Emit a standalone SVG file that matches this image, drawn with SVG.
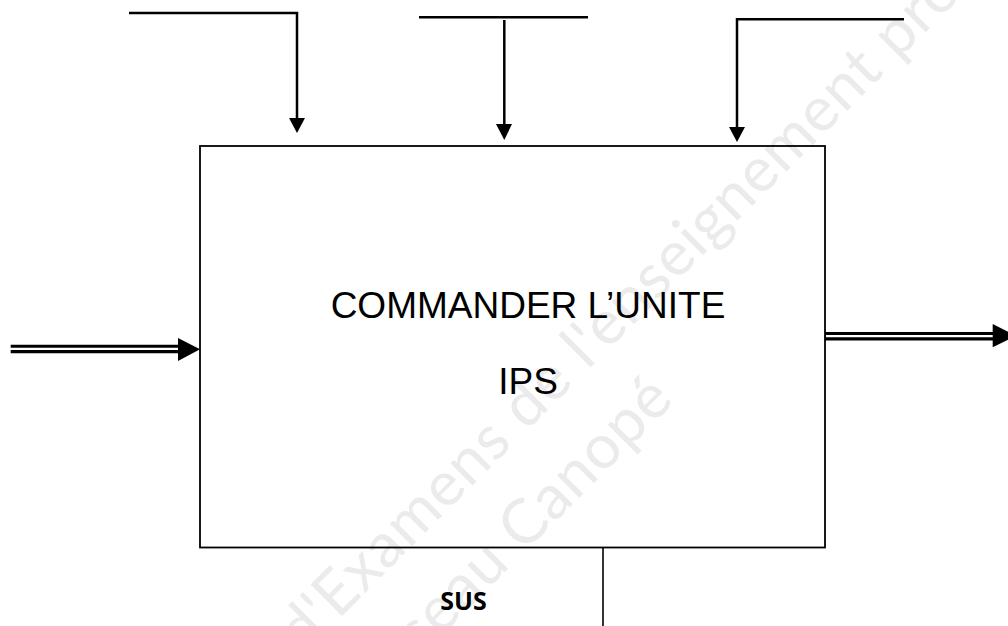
<svg xmlns="http://www.w3.org/2000/svg" width="1008" height="626" viewBox="0 0 1008 626">
<style>
.wm{font-family:Lato,"Open Sans",sans-serif;font-size:62px;fill:#ebebeb;letter-spacing:1px}
.ln{stroke:#000;stroke-width:2.5;fill:none}
.hd{fill:#000;stroke:none}
.box{fill:none;stroke:#000;stroke-width:1.8}
.lbl{font-family:"Liberation Sans",Arial,sans-serif;font-size:37px;fill:#000;text-anchor:middle}
.sus{font-family:"Open Sans","Liberation Sans",sans-serif;font-size:25px;font-weight:bold;fill:#000;text-anchor:middle}
</style>
<g id="watermark">
<text class="wm" x="303" y="655" transform="rotate(-45 303 655)">d'Examens de l'enseignement professionnel</text>
<text class="wm" x="370" y="707" transform="rotate(-45 370 707)">Réseau Canopé</text>
</g>
<g id="node-commander">
<rect class="box" x="200" y="146" width="625" height="401.5"/>
<text class="lbl" x="528" y="318">COMMANDER L’UNITE</text>
<text class="lbl" x="528" y="394">IPS</text>
</g>
<g id="label-sus">
<text class="sus" x="463.5" y="610">SUS</text>
</g>
<g id="connectors">
<path class="ln" d="M129 13 H297 V119"/>
<polygon class="hd" points="289,118 305,118 297,133"/>
<path class="ln" d="M419 17.3 H588"/>
<path class="ln" d="M504.3 20 V125"/>
<polygon class="hd" points="496,124 512,124 504.3,140"/>
<path class="ln" d="M904 19.3 H737 V128"/>
<polygon class="hd" points="729,127 745,127 737,142"/>
<line x1="10.7" y1="349" x2="180" y2="349" stroke="#000" stroke-width="8.3"/>
<line x1="10" y1="348.8" x2="182" y2="348.8" stroke="#fff" stroke-width="2.3"/>
<polygon class="hd" points="178,338 200,349.3 178,361"/>
<line x1="825" y1="336.3" x2="995" y2="336.3" stroke="#000" stroke-width="8.6"/>
<line x1="826" y1="336.2" x2="997" y2="336.2" stroke="#fff" stroke-width="2.3"/>
<polygon class="hd" points="992.7,324 1016,335.7 992.7,347.3"/>
<line x1="603" y1="547.5" x2="603" y2="626" stroke="#000" stroke-width="1.6"/>
</g>
</svg>
